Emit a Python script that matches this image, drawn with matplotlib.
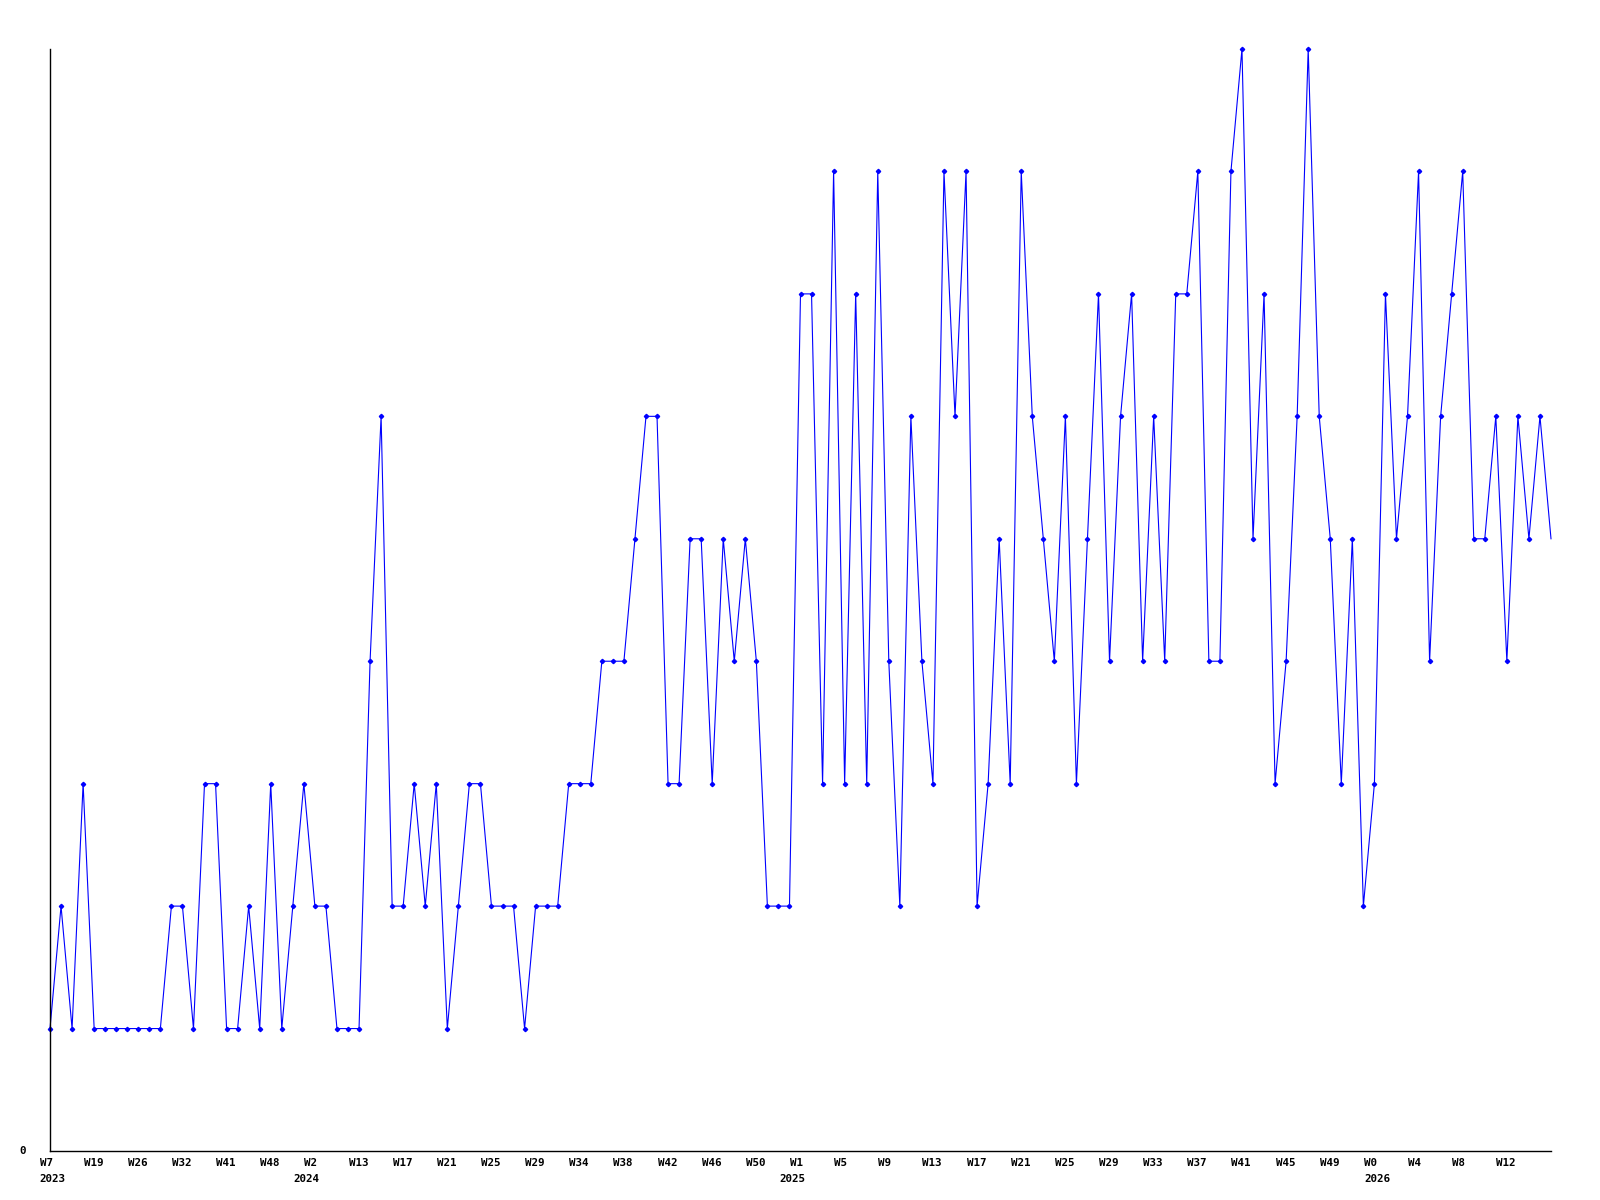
import numpy as np
import matplotlib
matplotlib.use('Agg')
import matplotlib.pyplot as plt
from matplotlib import transforms

# weekly values, one per point
values = [1, 2, 1, 3, 1, 1, 1, 1, 1, 1,
          1, 2, 2, 1, 3, 3, 1, 1, 2, 1,
          3, 1, 2, 3, 2, 2, 1, 1, 1, 4,
          6, 2, 2, 3, 2, 3, 1, 2, 3, 3,
          2, 2, 2, 1, 2, 2, 2, 3, 3, 3,
          4, 4, 4, 5, 6, 6, 3, 3, 5, 5,
          3, 5, 4, 5, 4, 2, 2, 2, 7, 7,
          3, 8, 3, 7, 3, 8, 4, 2, 6, 4,
          3, 8, 6, 8, 2, 3, 5, 3, 8, 6,
          5, 4, 6, 3, 5, 7, 4, 6, 7, 4,
          6, 4, 7, 7, 8, 4, 4, 8, 9, 5,
          7, 3, 4, 6, 9, 6, 5, 3, 5, 2,
          3, 7, 5, 6, 8, 4, 6, 7, 8, 5,
          5, 6, 4, 6, 5, 6, 5]

week_labels = ['W7', 'W19', 'W26', 'W32', 'W41', 'W48', 'W2', 'W13', 'W17',
               'W21', 'W25', 'W29', 'W34', 'W38', 'W42', 'W46', 'W50', 'W1',
               'W5', 'W9', 'W13', 'W17', 'W21', 'W25', 'W29', 'W33', 'W37',
               'W41', 'W45', 'W49', 'W0', 'W4', 'W8', 'W12']
week_pos = list(range(0, 4 * len(week_labels), 4))

year_labels = ['2023', '2024', '2025', '2026']
year_pos = [0, 23, 67, 120]

fig = plt.figure(figsize=(16, 12), dpi=100)
ax = fig.add_axes([50 / 1600, 49 / 1200, 1501 / 1600, 1102 / 1200])

x = np.arange(len(values))
ax.plot(x, values, color='#0000ff', linewidth=0.8, marker='D', markersize=2.2,
        markevery=list(range(len(values) - 1)), clip_on=False)

ax.set_xlim(0, len(values) - 1)
ax.set_ylim(0, 9)
ax.set_xticks([])
ax.set_yticks([])
for side in ['top', 'right']:
    ax.spines[side].set_visible(False)
for side in ['left', 'bottom']:
    ax.spines[side].set_linewidth(1.0)
    ax.spines[side].set_color('black')

font = dict(family='DejaVu Sans Mono', fontweight='bold', fontsize=7.8)
base = transforms.blended_transform_factory(ax.transData, ax.transAxes)

# week labels, text starts a bit left of the point
tr_week = transforms.offset_copy(base, fig=fig, x=-10.5, y=-7, units='dots')
for p, lab in zip(week_pos, week_labels):
    ax.text(p, 0, lab, transform=tr_week, ha='left', va='top', **font)

tr_year = transforms.offset_copy(base, fig=fig, x=-10.5, y=-23, units='dots')
for p, lab in zip(year_pos, year_labels):
    ax.text(p, 0, lab, transform=tr_year, ha='left', va='top', **font)

# only zero is labelled on the y axis
tr_zero = transforms.offset_copy(ax.transData, fig=fig, x=-24, y=0, units='dots')
ax.text(0, 0, '0', transform=tr_zero, ha='right', va='center', **font)

fig.savefig('out.png', dpi=100)
